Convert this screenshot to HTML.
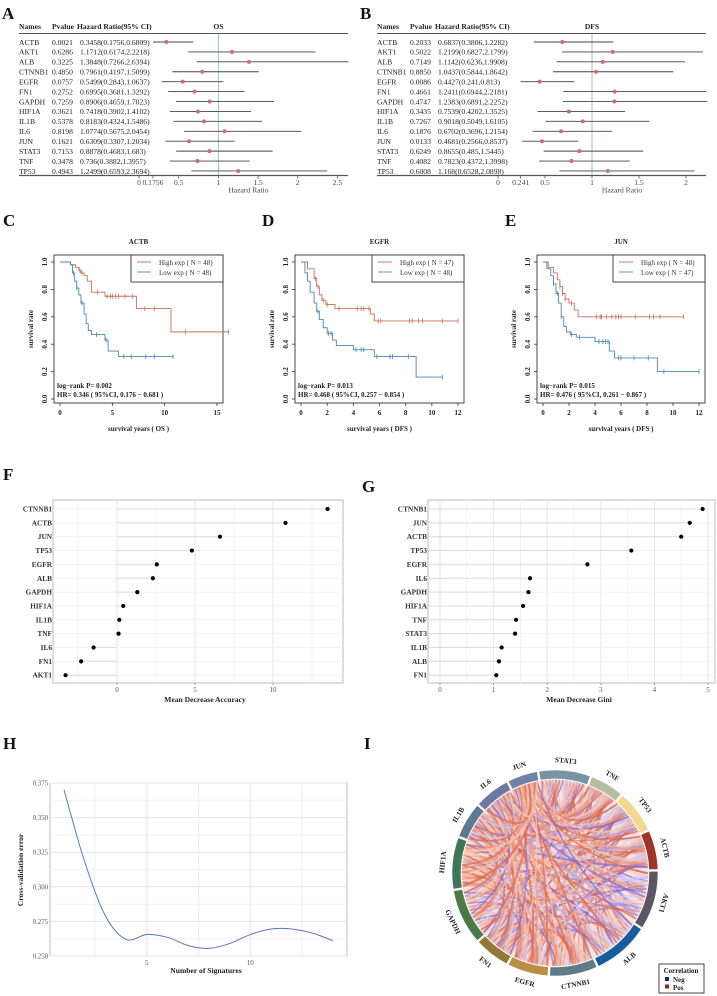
<!DOCTYPE html>
<html><head><meta charset="utf-8">
<style>
html,body{margin:0;padding:0;background:#fff;}
svg{display:block;font-family:"Liberation Serif",serif;}
</style></head>
<body>
<svg id="fig" width="717" height="996" viewBox="0 0 717 996" xmlns="http://www.w3.org/2000/svg"></svg>
<script>
// ---------- DATA ----------
const forestNames = ["ACTB","AKT1","ALB","CTNNB1","EGFR","FN1","GAPDH","HIF1A","IL1B","IL6","JUN","STAT3","TNF","TP53"];
const osP = ["0.0021","0.6286","0.3225","0.4850","0.0757","0.2752","0.7259","0.3621","0.5378","0.8198","0.1621","0.7153","0.3478","0.4943"];
const osHR = [0.3458,1.1712,1.3848,0.7961,0.5499,0.6995,0.8906,0.7418,0.8183,1.0774,0.6309,0.8878,0.736,1.2499];
const osLo = [0.1756,0.6174,0.7266,0.4197,0.2843,0.3681,0.4659,0.3902,0.4324,0.5675,0.3307,0.4683,0.3882,0.6593];
const osHi = [0.6809,2.2218,2.6394,1.5099,1.0637,1.3292,1.7023,1.4102,1.5486,2.0454,1.2034,1.683,1.3957,2.3694];
const osTicks = [0,0.1756,0.5,1,1.5,2,2.5];
const dfsP = ["0.2033","0.5022","0.7149","0.8850","0.0086","0.4661","0.4747","0.3435","0.7267","0.1876","0.0133","0.6249","0.4082","0.6008"];
const dfsHR = [0.6837,1.2199,1.1142,1.0437,0.4427,1.2411,1.2383,0.7539,0.9018,0.6702,0.4681,0.8655,0.7823,1.168];
const dfsLo = [0.3806,0.6827,0.6236,0.5844,0.241,0.6944,0.6891,0.4202,0.5049,0.3696,0.2566,0.485,0.4372,0.6528];
const dfsHi = [1.2282,2.1799,1.9908,1.8642,0.813,2.2181,2.2252,1.3525,1.6105,1.2154,0.8537,1.5445,1.3998,2.0898];
const dfsTicks = [0,0.241,0.5,1,1.5,2];

const actbHighT = [1.0,1.5,1.8,2.0,2.3,2.6,3.0,4.3,7.3,10.6];
const actbHighS = [0.98,0.96,0.94,0.92,0.90,0.86,0.78,0.75,0.66,0.49];
const actbHighC = [1.9,2.1,3.6,4.5,4.8,5.0,5.3,5.6,6.2,6.9,8.1,9.0,12.0,16.1];
const actbLowT = [1.0,1.2,1.4,1.6,1.8,2.0,2.3,2.5,2.7,3.0,4.3,4.6,5.6];
const actbLowS = [0.98,0.92,0.86,0.81,0.76,0.70,0.62,0.55,0.50,0.47,0.43,0.35,0.31];
const actbLowC = [1.3,1.6,2.1,3.5,4.4,6.1,6.8,8.2,9.0,10.8];
const egfrHighT = [0.5,1.0,1.2,1.4,1.6,1.9,2.6,5.3,5.6];
const egfrHighS = [0.95,0.88,0.82,0.76,0.72,0.69,0.66,0.62,0.57];
const egfrHighC = [1.1,1.3,1.7,2.0,2.9,4.3,4.6,4.8,5.2,5.9,6.1,8.3,8.5,9.0,9.3,10.8,12.0];
const egfrLowT = [0.3,0.5,0.7,1.0,1.2,1.4,1.7,2.0,2.4,2.7,4.0,5.6,8.8];
const egfrLowS = [0.92,0.86,0.78,0.70,0.64,0.58,0.52,0.48,0.43,0.39,0.36,0.31,0.16];
const egfrLowC = [1.3,2.1,2.3,4.2,4.6,4.8,5.8,6.8,7.0,8.2,10.8];
const junHighT = [0.4,0.8,1.1,1.3,1.5,1.7,2.0,2.4,2.7];
const junHighS = [0.96,0.92,0.87,0.82,0.77,0.73,0.70,0.65,0.60];
const junHighC = [1.3,1.5,1.7,2.2,4.1,4.4,4.5,4.9,5.3,5.6,5.8,6.0,7.1,8.2,8.5,9.0,10.8];
const junLowT = [0.3,0.6,0.8,1.0,1.2,1.4,1.6,1.8,2.1,2.6,4.0,5.1,5.5,8.8];
const junLowS = [0.95,0.90,0.84,0.77,0.70,0.60,0.53,0.49,0.47,0.45,0.42,0.35,0.30,0.20];
const junLowC = [0.8,1.1,1.4,2.2,2.8,4.3,4.6,4.8,5.0,5.8,6.0,7.0,8.1,9.3,12.0];

const accNames = ["CTNNB1","ACTB","JUN","TP53","EGFR","ALB","GAPDH","HIF1A","IL1B","TNF","IL6","FN1","AKT1"];
const accVals = [13.5,10.8,6.6,4.8,2.55,2.3,1.3,0.4,0.15,0.1,-1.5,-2.3,-3.3];
const accTicks = [0,5,10];
const giniNames = ["CTNNB1","JUN","ACTB","TP53","EGFR","IL6","GAPDH","HIF1A","TNF","STAT3","IL1B","ALB","FN1"];
const giniVals = [4.9,4.66,4.5,3.57,2.75,1.68,1.65,1.55,1.42,1.4,1.15,1.1,1.05];
const giniTicks = [0,1,2,3,4,5];

const cvN = [1,2,3,4,5,6,7,8,9,10,11,12,13,14];
const cvErr = [0.370,0.318,0.279,0.262,0.2655,0.2635,0.2575,0.2555,0.259,0.2655,0.2695,0.2695,0.2665,0.261];
const cvYTicks = [0.250,0.275,0.300,0.325,0.350,0.375];
const cvXTicks = [5,10];

const chordNames = ["STAT3","TNF","TP53","ACTB","AKT1","ALB","CTNNB1","EGFR","FN1","GAPDH","HIF1A","IL1B","IL6","JUN"];
const chordStart = [-9,21,41,66,89,123,156,184,208,229,261,291,312,333];
const chordEnd = [20,40,65,88,122,155,183,207,228,260,290,311,332,350];
const chordColors = ["#7893a3","#b9bd9f","#f2d98e","#9b3526","#5b5663","#175d9c","#5f7c86","#b98e45","#8f7b35","#4b7a47","#3f7658","#5d7a95","#6c78a3","#6f83a6"];
const corrVals = [0.6,-0.4,-0.3,0.7,0.5,-0.3,0.8,0.4,-0.5,0.6,0.7,-0.3,0.5,
 0.5,-0.3,-0.4,0.6,0.4,0.7,-0.3,0.5,-0.3,0.6,0.4,0.5,
 -0.4,-0.6,0.5,0.6,-0.3,-0.4,0.7,0.5,0.3,-0.6,0.4,
 -0.5,0.7,0.8,-0.6,0.4,0.5,0.7,-0.6,0.3,0.5,
 -0.7,-0.4,0.3,-0.5,0.4,-0.3,0.5,-0.6,0.4,
 0.5,-0.6,0.3,-0.4,-0.5,0.3,0.6,-0.4,
 0.7,0.6,-0.5,0.8,0.4,0.6,0.5,
 0.6,-0.4,0.7,0.5,0.6,0.4,
 0.5,0.6,-0.3,0.7,-0.3,
 0.8,0.5,-0.4,0.6,
 0.6,0.5,0.7,
 -0.5,0.4,
 0.6];

// ---------- HELPERS ----------
const NS = "http://www.w3.org/2000/svg";
const svg = document.getElementById("fig");
function el(tag, attrs, parent){
  const e = document.createElementNS(NS, tag);
  for (const k in attrs) e.setAttribute(k, attrs[k]);
  (parent||svg).appendChild(e);
  return e;
}
function txt(x,y,s,size,opts,parent){
  const o = Object.assign({x:x,y:y,"font-size":size,fill:"#222"}, opts||{});
  const t = el("text", o, parent);
  t.textContent = s;
  return t;
}
function group(name){
  const g = el("g", {});
  
  
  return g;
}
function panelLetter(x,y,s){
  const t = txt(x,y,s,17,{"font-weight":"bold",fill:"#111"});
  
  
}

// ---------- FOREST ----------
function forest(ox, pv, hr, lo, hi, ticks, x0, x1px, title, key){
  const g = group("forest-plot-"+key);
  const xs = v => x0 + v*x1px;
  const rowY = i => 42 + i*9.92;
  const h = txt(ox+19,29,"Names",7.6,{"font-weight":"bold"},g);
  
  
  const h2 = txt(ox+52,29,"Pvalue",7.6,{"font-weight":"bold"},g);
  
  
  const h3 = txt(ox+77,29,"Hazard Ratio(95% CI)",7.6,{"font-weight":"bold"},g);
  
  
  const h4 = txt(xs(1),29,title,7.6,{"font-weight":"bold","text-anchor":"middle"},g);
  
  
  el("line",{x1:ox+19,x2:ox+348,y1:33.5,y2:33.5,stroke:"#555","stroke-width":1},g);
  el("line",{x1:ox+19,x2:ox+348,y1:175.5,y2:175.5,stroke:"#555","stroke-width":1.2},g);
  el("line",{x1:xs(1),x2:xs(1),y1:34,y2:175,stroke:"#8fbcb8","stroke-width":0.9},g);
  forestNames.forEach((n,i)=>{
    const y = rowY(i);
    txt(ox+19,y+2.8,n,7.6,{},g);
    txt(ox+52,y+2.8,pv[i],7.6,{},g);
    const s = hr[i]+"("+lo[i]+","+hi[i]+")";
    txt(ox+80,y+2.8,s,7.6,{},g);
    const ln = el("line",{x1:xs(lo[i]),x2:xs(hi[i]),y1:y,y2:y,stroke:"#444","stroke-width":0.9},g);
    
    
    const c = el("circle",{cx:xs(hr[i]),cy:y,r:2,fill:"#c9706a"},g);
    
    
  });
  ticks.forEach(t=>{
    el("line",{x1:xs(t),x2:xs(t),y1:175.5,y2:178.5,stroke:"#555","stroke-width":0.8},g);
    txt(xs(t),185,String(t),7.6,{"text-anchor":"middle",fill:"#444"},g);
  });
  const xt = txt(xs(1)+30,192.5,"Hazard Ratio",7.6,{"text-anchor":"middle",fill:"#444"},g);
  
  
}
panelLetter(2,19,"A");
forest(0, osP, osHR, osLo, osHi, osTicks, 139, 79.4, "OS", "os");
panelLetter(360,19,"B");
forest(358, dfsP, dfsHR, dfsLo, dfsHi, dfsTicks, 498, 94, "DFS", "dfs");

// ---------- SURVIVAL ----------
function survival(key, title, fx0, fx1, xmax, xstep, hT,hS,hC, lT,lS,lC, nH, nL, p, hrTxt, kind){
  const g = group("km-plot-"+key);
  const fy0=255, fy1=403;
  const x0 = fx0+6, xw = (fx1-fx0-12)/xmax;
  const xs = v => x0 + v*xw;
  const ys = v => 399 - v*137;
  const tt = txt((fx0+fx1)/2,244,title,7,{"font-weight":"bold","text-anchor":"middle"},g);
  
  
  el("rect",{x:fx0,y:fy0,width:fx1-fx0,height:fy1-fy0,fill:"none",stroke:"#333","stroke-width":0.9},g);
  for(let v=0; v<=1.0001; v+=0.2){
    const y=ys(v);
    el("line",{x1:fx0,x2:fx0-3,y1:y,y2:y,stroke:"#333","stroke-width":0.8},g);
    txt(fx0-7,y,v.toFixed(1),7,{"font-weight":"bold","text-anchor":"middle",transform:"rotate(-90 "+(fx0-7)+" "+y+")"},g);
  }
  for(let v=0; v<=xmax+0.001; v+=xstep){
    const x=xs(v);
    el("line",{x1:x,x2:x,y1:fy1,y2:fy1+3,stroke:"#333","stroke-width":0.8},g);
    txt(x,415,String(v),7,{"font-weight":"bold","text-anchor":"middle"},g);
  }
  const yl = txt(fx0-21,329,"survival rate",7,{"font-weight":"bold","text-anchor":"middle",transform:"rotate(-90 "+(fx0-21)+" 329)"},g);
  
  
  const xl = txt((fx0+fx1)/2,431,"survival years ( "+kind+" )",7,{"font-weight":"bold","text-anchor":"middle"},g);
  
  
  function curve(T,S,C,color,name){
    const tEnd = Math.max(T[T.length-1], C.length?C[C.length-1]:0);
    let d = "M"+xs(0)+" "+ys(1);
    T.forEach((t,i)=>{ d += " H"+xs(t)+" V"+ys(S[i]); });
    d += " H"+xs(tEnd);
    const p = el("path",{d:d,fill:"none",stroke:color,"stroke-width":0.9},g);
    
    
    C.forEach(c=>{
      let s=1; T.forEach((t,i)=>{ if(t<=c) s=S[i]; });
      el("line",{x1:xs(c),x2:xs(c),y1:ys(s)-2.5,y2:ys(s)+2.5,stroke:color,"stroke-width":0.8},g);
    });
  }
  curve(hT,hS,hC,"#c8705a","high-exp-curve");
  curve(lT,lS,lC,"#4c88b4","low-exp-curve");
  const lg = el("g",{},g);
  
  
  el("rect",{x:fx1-92,y:fy0,width:92,height:27,fill:"#fff",stroke:"#333","stroke-width":0.9},lg);
  el("line",{x1:fx1-86,x2:fx1-72,y1:fy0+7,y2:fy0+7,stroke:"#c8705a","stroke-width":0.9},lg);
  el("line",{x1:fx1-86,x2:fx1-72,y1:fy0+17,y2:fy0+17,stroke:"#4c88b4","stroke-width":0.9},lg);
  txt(fx1-64,fy0+10,"High exp ( N = "+nH+")",7,{fill:"#333"},lg);
  txt(fx1-64,fy0+20,"Low exp ( N = "+nL+")",7,{fill:"#333"},lg);
  txt(fx0+3,388,"log−rank P= "+p,7,{"font-weight":"bold"},g);
  txt(fx0+3,397,"HR= "+hrTxt,7,{"font-weight":"bold"},g);
}
panelLetter(3,226,"C");
survival("actb","ACTB",54,223,15,5,actbHighT,actbHighS,actbHighC,actbLowT,actbLowS,actbLowC,48,48,"0.002","0.346 ( 95%CI, 0.176 − 0.681 )","OS");
panelLetter(262,226,"D");
survival("egfr","EGFR",295,464,12,2,egfrHighT,egfrHighS,egfrHighC,egfrLowT,egfrLowS,egfrLowC,47,48,"0.013","0.468 ( 95%CI, 0.257 − 0.854 )","DFS");
panelLetter(505,226,"E");
survival("jun","JUN",537,705,12,2,junHighT,junHighS,junHighC,junLowT,junLowS,junLowC,48,47,"0.015","0.476 ( 95%CI, 0.261 − 0.867 )","DFS");

// ---------- DOT PLOTS ----------
function dotplot(key, names, vals, ticks, minor, fx0, fx1, zeroX, unit, lineFromLeft, title, titleX){
  const g = group("importance-plot-"+key);
  const fy0=500, fy1=683;
  const xs = v => zeroX + v*unit;
  const ys = i => 509 + i*13.85;
  el("rect",{x:fx0,y:fy0,width:fx1-fx0,height:fy1-fy0,fill:"#fff",stroke:"#bbb","stroke-width":1},g);
  minor.forEach(t=>el("line",{x1:xs(t),x2:xs(t),y1:fy0,y2:fy1,stroke:"#f0f0f0","stroke-width":0.8},g));
  ticks.forEach(t=>{
    el("line",{x1:xs(t),x2:xs(t),y1:fy0,y2:fy1,stroke:"#e4e4e4","stroke-width":0.9},g);
    el("line",{x1:xs(t),x2:xs(t),y1:fy1,y2:fy1+2,stroke:"#888","stroke-width":0.8},g);
    txt(xs(t),692,String(t),7,{"text-anchor":"middle",fill:"#555"},g);
  });
  names.forEach((n,i)=>{
    const y=ys(i);
    el("line",{x1:fx0,x2:fx1,y1:y,y2:y,stroke:"#f0f0f0","stroke-width":0.8},g);
    el("line",{x1:lineFromLeft?fx0:xs(0),x2:xs(vals[i]),y1:y,y2:y,stroke:"#dcdcdc","stroke-width":1},g);
    const l = txt(fx0-1,y+2.5,n,7.3,{"font-weight":"bold","text-anchor":"end",fill:"#333"},g);
    
    
    const c = el("circle",{cx:xs(vals[i]),cy:y,r:2.1,fill:"#000"},g);
    
    
  });
  const xt = txt(titleX,702,title,7.6,{"font-weight":"bold","text-anchor":"middle"},g);
  
  
}
panelLetter(3,480,"F");
dotplot("accuracy",accNames,accVals,accTicks,[-2.5,2.5,7.5,12.5],53,343,117,15.6,false,"Mean Decrease Accuracy",205);
panelLetter(362,492,"G");
dotplot("gini",giniNames,giniVals,giniTicks,[0.5,1.5,2.5,3.5,4.5],428,715,440,53.6,true,"Mean Decrease Gini",579);

// ---------- CV ERROR ----------
(function(){
  const g = group("cv-error-plot");
  const fx0=50, fx1=347, fy0=783, fy1=956;
  const xs = v => 64 + (v-1)*20.7;
  const ys = v => fy1 - (v-0.25)/0.125*(fy1-fy0);
  el("rect",{x:fx0,y:fy0,width:fx1-fx0,height:fy1-fy0,fill:"#fff",stroke:"#bbb","stroke-width":1},g);
  [2.5,7.5,12.5].forEach(t=>el("line",{x1:xs(t),x2:xs(t),y1:fy0,y2:fy1,stroke:"#f0f0f0"},g));
  cvXTicks.forEach(t=>{
    el("line",{x1:xs(t),x2:xs(t),y1:fy0,y2:fy1,stroke:"#e4e4e4"},g);
    txt(xs(t),965,String(t),7,{"text-anchor":"middle",fill:"#555"},g);
  });
  cvYTicks.forEach((t,i)=>{
    el("line",{x1:fx0,x2:fx1,y1:ys(t),y2:ys(t),stroke:"#e4e4e4"},g);
    if(i<cvYTicks.length-1) el("line",{x1:fx0,x2:fx1,y1:ys(t+0.0125),y2:ys(t+0.0125),stroke:"#f2f2f2"},g);
    txt(fx0-2,ys(t)+2.5,t.toFixed(3),6.8,{"text-anchor":"end",fill:"#555"},g);
  });
  const pts = cvN.map((n,i)=>[xs(n),ys(cvErr[i])]);
  let d = "M"+pts[0][0]+" "+pts[0][1];
  for(let i=0;i<pts.length-1;i++){
    const p0=pts[Math.max(0,i-1)], p1=pts[i], p2=pts[i+1], p3=pts[Math.min(pts.length-1,i+2)];
    const c1=[p1[0]+(p2[0]-p0[0])/6, p1[1]+(p2[1]-p0[1])/6];
    const c2=[p2[0]-(p3[0]-p1[0])/6, p2[1]-(p3[1]-p1[1])/6];
    d += " C"+c1[0]+" "+c1[1]+" "+c2[0]+" "+c2[1]+" "+p2[0]+" "+p2[1];
  }
  const line = el("path",{d:d,fill:"none",stroke:"#5b78b8","stroke-width":1},g);
  
  
  const yl = txt(23,870,"Cross-validation error",7.6,{"font-weight":"bold","text-anchor":"middle",transform:"rotate(-90 23 870)"},g);
  
  
  const xl = txt(206,973,"Number of Signatures",7.6,{"font-weight":"bold","text-anchor":"middle"},g);
  
  
})();
panelLetter(3,749,"H");

// ---------- CHORD ----------
panelLetter(364,749,"I");
(function(){
  const g = group("chord-diagram");
  const cx=555, cy=873, rIn=94, rOut=103;
  const P = (a,r)=>[cx+r*Math.sin(a*Math.PI/180), cy-r*Math.cos(a*Math.PI/180)];
  el("circle",{cx:cx,cy:cy,r:rIn,fill:"#f7e4e8"},g);
  let k=0;
  const n = chordNames.length;
  for(let i=0;i<n;i++){
    for(let j=i+1;j<n;j++){
      const v = corrVals[k++];
      for(let s=0;s<3;s++){
        const fi = ((j*7+s*5)%13+0.5)/13.5;
        const fj = ((i*5+s*7)%13+0.5)/13.5;
        const a1 = chordStart[i]+fi*(chordEnd[i]-chordStart[i]);
        const a2 = chordStart[j]+fj*(chordEnd[j]-chordStart[j]);
        const p1=P(a1,rIn-1), p2=P(a2,rIn-1);
        const mx=(p1[0]+p2[0])/2, my=(p1[1]+p2[1])/2;
        const qx=cx+(mx-cx)*0.35, qy=cy+(my-cy)*0.35;
        const col = v>=0 ? (s===0?"#df6a48":(s===1?"#ee9c80":"#f5c8b9")) : (s===0?"#8068d8":(s===1?"#b1a0e8":"#d6ccf2"));
        const c = el("path",{d:"M"+p1[0]+" "+p1[1]+" Q"+qx+" "+qy+" "+p2[0]+" "+p2[1],fill:"none",stroke:col,"stroke-width":(0.6+2.4*Math.abs(v)).toFixed(2),"stroke-opacity":0.7},g);
        
        
      }
    }
  }
  chordNames.forEach((nm,i)=>{
    const a0=chordStart[i], a1=chordEnd[i];
    const o0=P(a0,rOut), o1=P(a1,rOut), i0=P(a0,rIn), i1=P(a1,rIn);
    const large = (a1-a0)>180?1:0;
    const d = "M"+o0[0]+" "+o0[1]+" A"+rOut+" "+rOut+" 0 "+large+" 1 "+o1[0]+" "+o1[1]+" L"+i1[0]+" "+i1[1]+" A"+rIn+" "+rIn+" 0 "+large+" 0 "+i0[0]+" "+i0[1]+" Z";
    const sec = el("path",{d:d,fill:chordColors[i],stroke:"#fff","stroke-width":0.6},g);
    
    
    const am = (a0+a1)/2;
    const lp = P(am,113);
    const norm = ((am%360)+360)%360;
    const rot = (norm>125 && norm<255) ? norm-180 : norm;
    const t = txt(lp[0],lp[1]+2.5,nm,7.3,{"font-weight":"bold","text-anchor":"middle",transform:"rotate("+rot+" "+lp[0]+" "+lp[1]+")"},g);
    
    
  });
  const lg = el("g",{},g);
  
  
  el("rect",{x:659,y:964,width:45,height:29,fill:"#fff",stroke:"#333","stroke-width":0.9},lg);
  txt(681,973,"Correlation",7,{"font-weight":"bold","text-anchor":"middle"},lg);
  el("rect",{x:665,y:977,width:4,height:4,fill:"#1a2a7a"},lg);
  txt(673,982,"Neg",7,{"font-weight":"bold"},lg);
  el("rect",{x:665,y:984.5,width:4,height:4,fill:"#8a2a1e"},lg);
  txt(673,990,"Pos",7,{"font-weight":"bold"},lg);
})();
</script>
</body></html>
